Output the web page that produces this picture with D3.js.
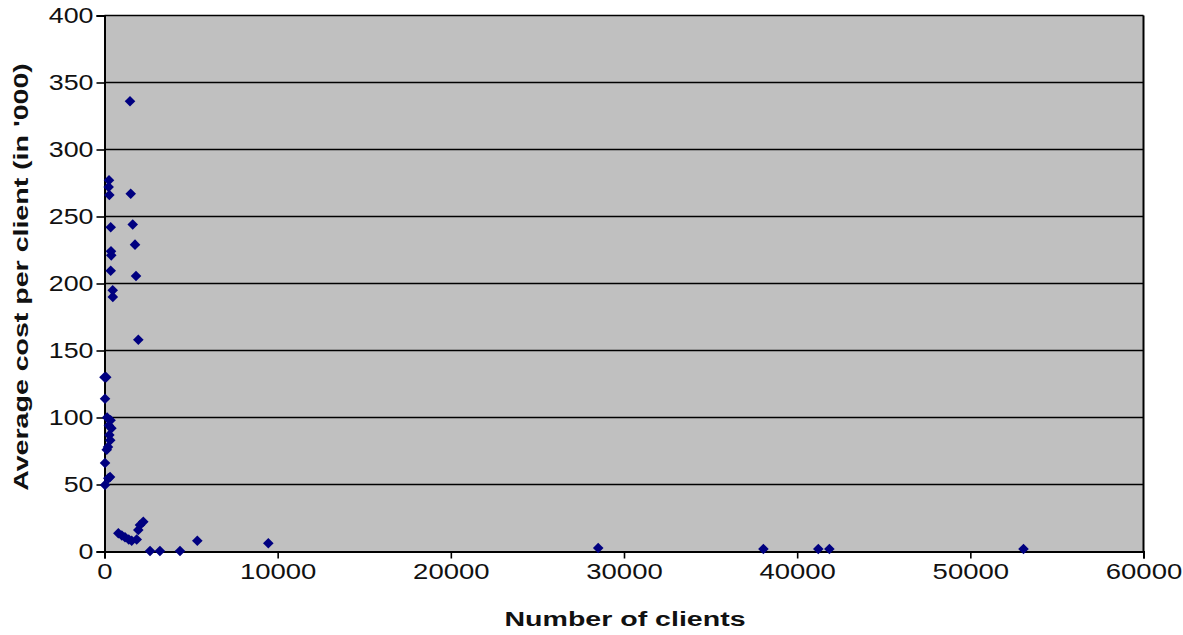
<!DOCTYPE html>
<html><head><meta charset="utf-8">
<script src="https://cdn.jsdelivr.net/npm/d3@7"></script>
<style>html,body{margin:0;padding:0;background:#fff;}svg{display:block;font-family:"Liberation Sans",Arial,sans-serif;}</style>
</head><body><svg id="c" width="1183" height="635"></svg>
<script>
const clients = [1473, 260, 240, 280, 1514, 358, 1630, 1762, 375, 390, 358, 1820, 474, 480, 1953,
  0, 100, 30, 150, 350, 250, 400, 280, 330, 130, 200, 30, 220, 320, 30,
  800, 1000, 1185, 1400, 1570, 1860, 1950, 2050, 2240, 2630, 3200, 4360, 5360, 9460,
  28510, 38050, 41220, 41860, 53070];
const costs = [336, 277, 272, 266, 267, 242, 244, 229, 224, 221, 209.5, 205.6, 195, 190, 158,
  130, 130, 114, 100, 98, 94, 92, 87, 83, 76, 78, 66, 54.6, 55.6, 49.6,
  13.6, 12, 10.6, 9, 8, 9, 16, 19.8, 22.2, 0.4, 0.4, 0.4, 8, 6.1,
  2.6, 1.9, 1.9, 1.9, 1.9];
const xTicks = [0, 10000, 20000, 30000, 40000, 50000, 60000];
const yTicks = [0, 50, 100, 150, 200, 250, 300, 350, 400];
const xTitle = "Number of clients";
const yTitle = "Average cost per client (in '000)";

const svg = d3.select("#c");
const L = 104.5, R = 1143.5, T = 15.5, B = 551.5;
const x = d3.scaleLinear().domain([0, 60000]).range([L, R]);
const y = d3.scaleLinear().domain([0, 400]).range([B, T]);

svg.append("rect").attr("x", L).attr("y", T).attr("width", R - L).attr("height", B - T).attr("fill", "#c0c0c0");

svg.append("g").selectAll("line").data(yTicks.filter(d => d > 0)).join("line")
  .attr("x1", L).attr("x2", R).attr("y1", d => y(d)).attr("y2", d => y(d))
  .attr("stroke", "#000").attr("stroke-width", 1.6);
svg.append("line").attr("x1", R).attr("x2", R).attr("y1", T).attr("y2", B).attr("stroke", "#000").attr("stroke-width", 2);

const xa = svg.append("g").attr("transform", `translate(0,${B})`)
  .call(d3.axisBottom(x).tickValues(xTicks).tickFormat(d3.format("d")).tickSizeOuter(0).tickSize(7).tickPadding(5));
const ya = svg.append("g").attr("transform", `translate(${L},0)`)
  .call(d3.axisLeft(y).tickValues(yTicks).tickFormat(d3.format("d")).tickSizeOuter(0).tickSize(8).tickPadding(3));
[xa, ya].forEach(a => {
  a.select(".domain").attr("stroke", "#000").attr("stroke-width", 2);
  a.selectAll(".tick line").attr("stroke", "#000").attr("stroke-width", 1.6);
  a.selectAll("text").attr("font-size", 22).attr("fill", "#111").attr("font-family", "Liberation Sans, Arial, sans-serif");
});
xa.selectAll(".tick text").attr("transform", "scale(1.25,1)");
ya.selectAll(".tick text").attr("transform", "translate(-11,0) scale(1.22,1) translate(11,0)");

const diamond = d3.symbol().type(d3.symbolSquare).size(56);
svg.append("g").selectAll("path").data(clients.map((c, i) => [c, costs[i]])).join("path")
  .attr("d", diamond)
  .attr("transform", d => `translate(${x(d[0])},${y(d[1])}) rotate(45)`)
  .attr("fill", "#000080");

// titles (horizontally widened like the reference's font)
svg.append("text").attr("transform", "translate(625,626) scale(1.36,1)").attr("text-anchor", "middle")
  .attr("font-size", 21).attr("font-weight", "bold").attr("fill", "#111").text(xTitle);
svg.append("text").attr("transform", "translate(28,277) rotate(-90) scale(1.36,1)").attr("text-anchor", "middle")
  .attr("font-size", 21).attr("font-weight", "bold").attr("fill", "#111").text(yTitle);
</script></body></html>
